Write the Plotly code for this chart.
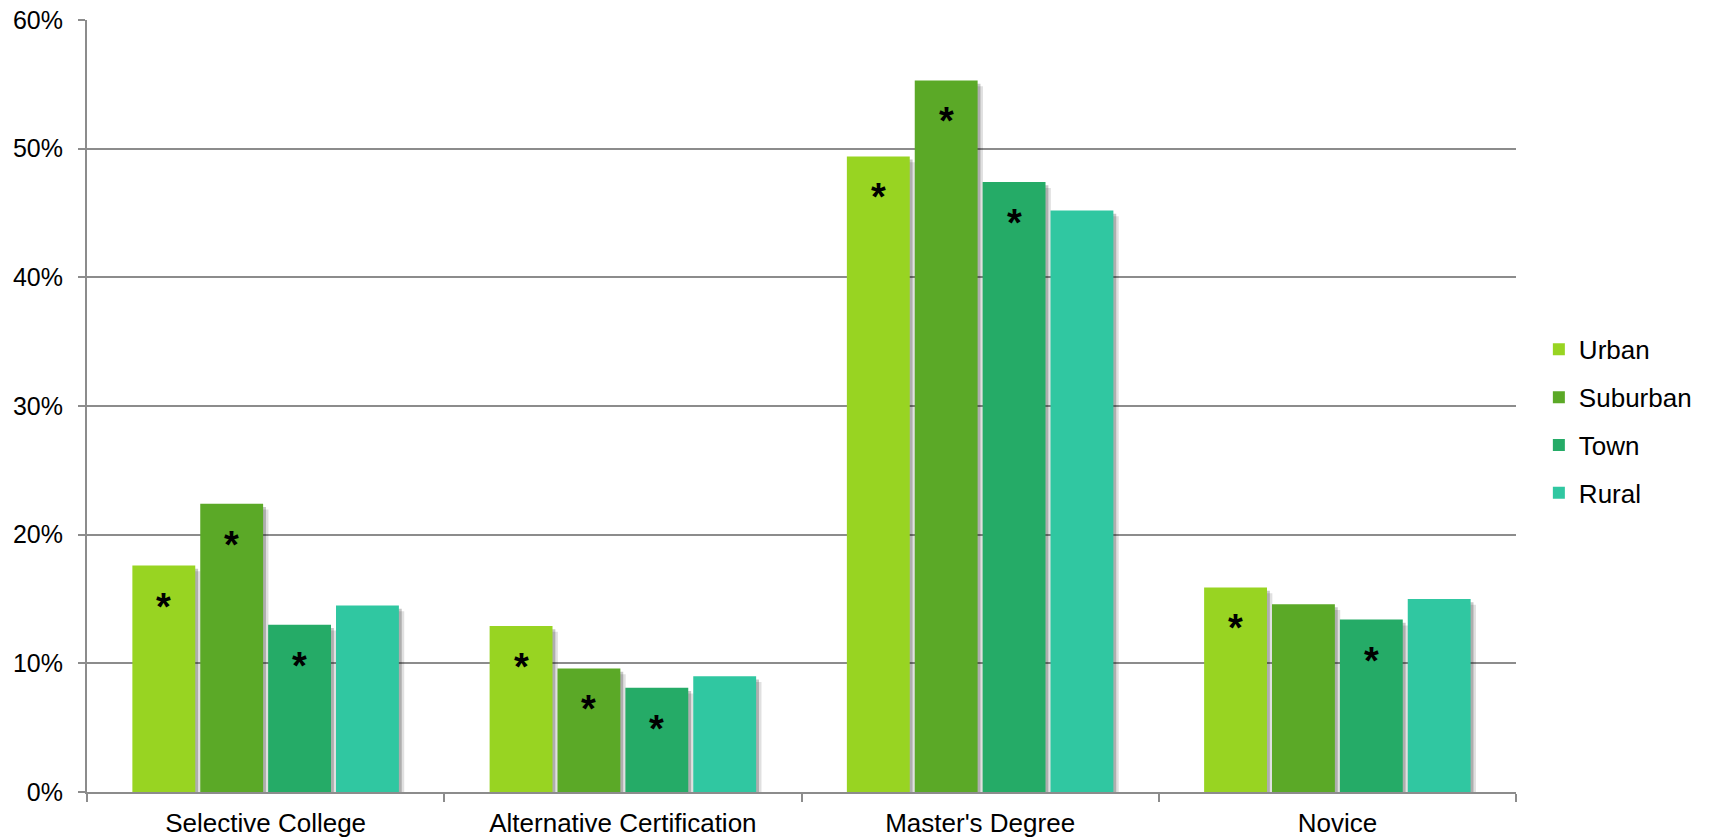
import plotly.graph_objects as go

# Teacher characteristics by locale (percent of teachers)
categories = ["Selective College", "Alternative Certification", "Master's Degree", "Novice"]
urban = [17.6, 12.9, 49.4, 15.9]
suburban = [22.4, 9.6, 55.3, 14.6]
town = [13.0, 8.1, 47.4, 13.4]
rural = [14.5, 9.0, 45.2, 15.0]

# Statistically significant difference flags (shown as "*")
urban_sig = [True, True, True, True]
suburban_sig = [True, True, True, False]
town_sig = [True, True, True, True]
rural_sig = [False, False, False, False]

series = [
    ("Urban", urban, urban_sig, "#98D422"),
    ("Suburban", suburban, suburban_sig, "#5BA927"),
    ("Town", town, town_sig, "#25AB67"),
    ("Rural", rural, rural_sig, "#30C7A1"),
]

y_ticks = [0, 10, 20, 30, 40, 50, 60]
y_labels = [f"{v}%" for v in y_ticks]

FONT = "Liberation Sans, Arial, sans-serif"
GRID = "#8C8C8C"
BAR_W = 0.176
PITCH = 0.19
START = -0.373

fig = go.Figure()

# soft drop shadows behind each bar
for i, (name, vals, sig, color) in enumerate(series):
    off = START + i * PITCH
    for dx, dy, alpha in [(0.008, 0.25, 0.22), (0.015, 0.45, 0.12)]:
        fig.add_trace(go.Bar(
            x=categories, y=[v - dy for v in vals],
            width=BAR_W, offset=off + dx,
            marker=dict(color=f"rgba(0,0,0,{alpha})", line=dict(width=0)),
            showlegend=False, hoverinfo="skip",
        ))

# main bars
for i, (name, vals, sig, color) in enumerate(series):
    off = START + i * PITCH
    fig.add_trace(go.Bar(
        x=categories, y=vals, name=name,
        width=BAR_W, offset=off,
        marker=dict(color=color, line=dict(width=0)),
        legendgroup=name,
    ))
    for j, (v, s) in enumerate(zip(vals, sig)):
        if s:
            fig.add_annotation(
                x=j + off + BAR_W / 2, y=v, text="<b>*</b>", showarrow=False,
                yshift=-41, font=dict(family=FONT, size=38, color="black"),
            )

fig.update_layout(
    width=1709, height=838,
    margin=dict(l=87, r=186, t=20, b=46),
    paper_bgcolor="white", plot_bgcolor="white",
    barmode="overlay",
    font=dict(family=FONT, size=24, color="black"),
    legend=dict(
        x=1.016, xanchor="left", y=0.48, yanchor="middle",
        font=dict(family=FONT, size=26, color="black"),
        traceorder="grouped", tracegroupgap=11,
        bgcolor="rgba(0,0,0,0)",
    ),
    xaxis=dict(
        type="category", range=[-0.5, 3.5], automargin=False,
        showline=True, linecolor=GRID, linewidth=2,
        ticks="outside", tickson="boundaries", ticklen=8, tickcolor=GRID, tickwidth=2,
        showgrid=False, tickfont=dict(size=26),
        ticklabelstandoff=7,
    ),
    yaxis=dict(
        range=[0, 60], tickmode="array", tickvals=y_ticks, ticktext=y_labels,
        automargin=False,
        showline=True, linecolor=GRID, linewidth=2,
        ticks="outside", ticklen=7, tickcolor=GRID, tickwidth=2,
        showgrid=True, gridcolor=GRID, gridwidth=2,
        zeroline=False, tickfont=dict(size=25),
        ticklabelstandoff=10,
    ),
)

fig.write_html("out.html")
